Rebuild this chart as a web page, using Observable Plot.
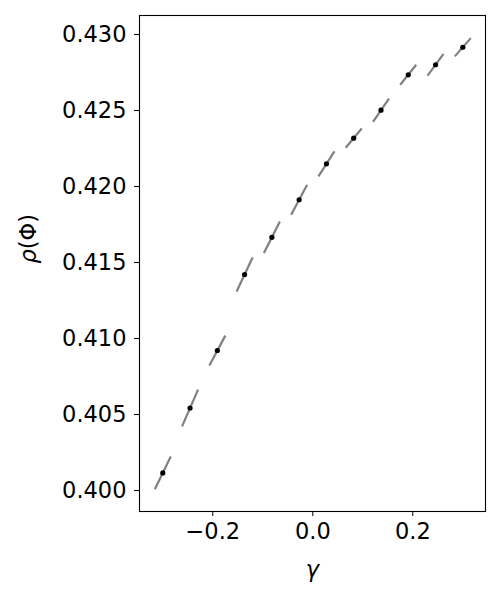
<!DOCTYPE html>
<html><head><meta charset="utf-8">
<script src="https://cdn.jsdelivr.net/npm/d3@7"></script>
<script src="https://cdn.jsdelivr.net/npm/@observablehq/plot@0.6"></script>
<style>body{margin:0;background:#fff}</style>
</head><body><div id="chart"></div>
<script>
// data
const gamma = [-0.3, -0.2455, -0.1909, -0.1364, -0.0818, -0.0273, 0.0273, 0.0818, 0.1364, 0.1909, 0.2455, 0.3];
const rho = [0.40116, 0.40543, 0.40921, 0.41421, 0.41666, 0.41913, 0.42149, 0.42318, 0.42502, 0.42735, 0.42801, 0.42916];
// local slope of each short tangent segment (dρ/dγ)
const slope = [0.0671, 0.0757, 0.0612, 0.0701, 0.0651, 0.0617, 0.0513, 0.0395, 0.0480, 0.0411, 0.0444, 0.0375];
const segHalfWidth = 0.016;
const xTicks = [-0.2, 0.0, 0.2];
const yTicks = [0.400, 0.405, 0.410, 0.415, 0.420, 0.425, 0.430];
const xLabel = ["γ"];
const yLabel = ["ρ(Φ)"];

const points = gamma.map((g, i) => ({g, r: rho[i], s: slope[i]}));

const plot = Plot.plot({
  width: 500, height: 600,
  marginLeft: 139, marginRight: 15, marginTop: 15, marginBottom: 89,
  style: {fontFamily: "DejaVu Sans", fontSize: "22px", background: "#fff", color: "#000"},
  x: {domain: [-0.3466, 0.3454]},
  y: {domain: [0.39862, 0.43125]},
  marks: [
    Plot.link(points, {
      x1: d => d.g - segHalfWidth, y1: d => d.r - d.s * segHalfWidth,
      x2: d => d.g + segHalfWidth, y2: d => d.r + d.s * segHalfWidth,
      stroke: "#808080", strokeWidth: 2.2
    }),
    Plot.dot(points, {x: "g", y: "r", r: 2.6, fill: "#000", stroke: "none"}),
    Plot.frame({stroke: "#000", strokeWidth: 1.1}),
    Plot.axisX(xTicks, {tickSize: 5, tickPadding: 7, tickFormat: d3.format(".1f"), label: null, fontSize: 22.5, stroke: "#000", fill: "#000"}),
    Plot.axisY(yTicks, {tickSize: 5, tickPadding: 8, tickFormat: d3.format(".3f"), label: null, fontSize: 22.5, stroke: "#000", fill: "#000"}),
    Plot.text(xLabel, {text: d => d, frameAnchor: "bottom", dy: 65, fontStyle: "italic", fontSize: 22.5, fill: "#000"}),
    Plot.text(yLabel, {text: d => d, frameAnchor: "left", dx: -111, rotate: -90, fontSize: 22.5, fill: "#000"})
  ]
});
document.getElementById("chart").appendChild(plot);

// math-style label: italic rho, upright parentheses and Phi
d3.select(plot).selectAll("text").filter(function() { return this.textContent === "ρ(Φ)"; })
  .each(function() {
    const t = d3.select(this);
    t.text(null);
    t.append("tspan").attr("font-style", "italic").text("ρ");
    t.append("tspan").text("(Φ)");
  });
</script>
</body></html>
